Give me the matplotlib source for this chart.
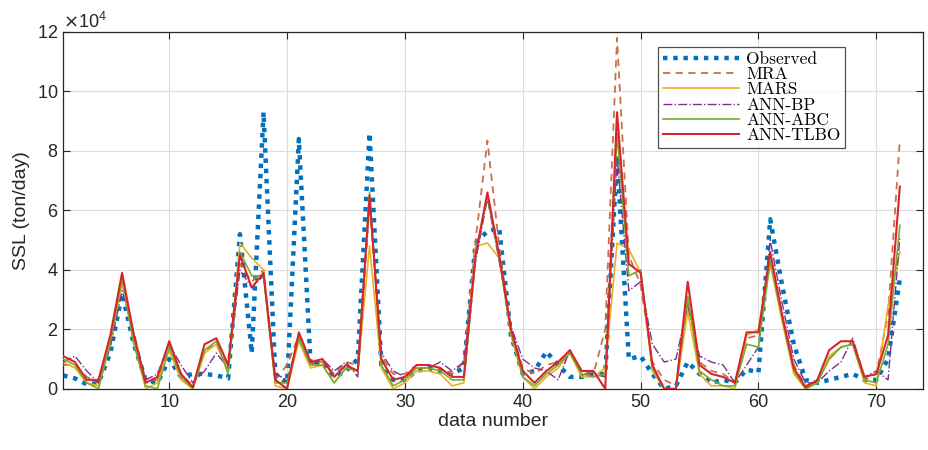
import numpy as np
import matplotlib.pyplot as plt
from matplotlib.ticker import ScalarFormatter

# values in units of 1e4 ton/day
observed = [0.45, 0.35, 0.15, 0.2, 1.2, 3.2, 1.5, 0.3, 0.2, 1.0,
            0.4, 0.5, 0.5, 0.45, 0.35, 5.2, 1.2, 9.3, 0.5, 0.2,
            8.4, 0.8, 0.9, 0.4, 0.6, 1.0, 8.6, 0.8, 0.3, 0.3,
            0.6, 0.7, 0.6, 0.5, 0.7, 4.9, 5.3, 5.4, 1.8, 0.5,
            0.6, 1.25, 0.8, 0.4, 0.4, 0.5, 0.5, 7.8, 1.0, 1.1,
            0.5, 0.0, 0.1, 0.9, 0.5, 0.2, 0.3, 0.2, 0.65, 0.55,
            5.7, 3.5, 1.5, 0.3, 0.2, 0.3, 0.4, 0.5, 0.3, 0.3,
            1.0, 3.7]
mra = [0.8, 0.8, 0.4, 0.2, 1.5, 3.6, 1.8, 0.3, 0.3, 1.4,
       0.5, 0.1, 1.3, 1.5, 0.7, 4.2, 3.6, 4.0, 0.3, 0.8,
       1.8, 0.9, 0.9, 0.5, 0.9, 0.8, 6.2, 1.1, 0.5, 0.5,
       0.8, 0.8, 0.7, 0.5, 0.9, 5.0, 8.35, 4.8, 2.0, 0.7,
       0.5, 0.8, 0.9, 1.2, 0.6, 0.5, 2.0, 11.8, 4.5, 3.5,
       0.9, 0.3, 0.1, 3.0, 0.9, 0.6, 0.5, 0.2, 1.7, 1.8,
       4.5, 2.5, 0.8, 0.1, 0.3, 1.0, 1.4, 1.5, 0.3, 0.5,
       2.5, 8.4]
mars = [0.9, 0.7, 0.2, 0.1, 1.5, 3.6, 1.6, 0.0, 0.2, 1.3,
        0.3, 0.0, 1.2, 1.5, 0.6, 4.9, 4.4, 4.0, 0.1, 0.0,
        1.6, 0.7, 0.8, 0.2, 0.7, 0.6, 4.8, 0.7, 0.0, 0.2,
        0.6, 0.6, 0.5, 0.1, 0.2, 4.8, 4.9, 4.4, 1.8, 0.4,
        0.0, 0.4, 0.7, 1.2, 0.4, 0.4, 0.7, 4.9, 4.7, 3.9,
        0.6, 0.0, 0.0, 2.6, 0.5, 0.1, 0.1, 0.0, 1.8, 2.0,
        4.2, 2.3, 0.5, 0.0, 0.2, 1.1, 1.4, 1.5, 0.2, 0.1,
        2.8, 4.6]
ann_bp = [0.9, 1.1, 0.6, 0.2, 1.4, 3.3, 1.9, 0.3, 0.5, 1.5,
          0.8, 0.2, 0.6, 1.2, 0.7, 4.0, 3.4, 3.8, 0.5, 0.3,
          1.7, 0.8, 1.0, 0.6, 0.9, 0.4, 6.3, 1.2, 0.6, 0.4,
          0.7, 0.7, 0.9, 0.6, 0.9, 4.3, 6.4, 4.3, 2.1, 1.0,
          0.7, 0.6, 0.3, 1.3, 0.5, 0.5, 0.4, 7.8, 3.3, 3.6,
          1.5, 0.9, 1.0, 2.8, 1.1, 0.9, 0.8, 0.2, 0.8, 1.4,
          5.0, 2.9, 1.0, 0.2, 0.2, 0.6, 0.9, 1.7, 0.4, 0.6,
          0.3, 5.1]
ann_abc = [1.0, 0.8, 0.2, 0.0, 1.6, 3.7, 1.5, 0.1, 0.0, 1.4,
           0.4, 0.0, 1.3, 1.6, 0.5, 4.6, 3.8, 3.8, 0.2, 0.2,
           1.7, 0.8, 0.8, 0.2, 0.7, 0.6, 6.6, 0.8, 0.1, 0.3,
           0.7, 0.7, 0.6, 0.3, 0.3, 4.5, 6.5, 4.4, 1.9, 0.4,
           0.1, 0.5, 0.8, 1.2, 0.5, 0.4, 0.5, 8.6, 3.8, 4.0,
           0.7, 0.0, 0.0, 3.1, 0.6, 0.3, 0.1, 0.1, 1.5, 1.4,
           4.3, 2.4, 0.6, 0.0, 0.2, 1.0, 1.4, 1.5, 0.3, 0.2,
           1.5, 5.5]
ann_tlbo = [1.1, 0.9, 0.3, 0.3, 1.8, 3.9, 1.8, 0.2, 0.4, 1.6,
            0.5, 0.05, 1.5, 1.7, 0.8, 4.5, 3.4, 3.9, 0.3, 0.0,
            1.9, 0.9, 1.0, 0.4, 0.8, 0.6, 6.5, 1.0, 0.3, 0.4,
            0.8, 0.8, 0.7, 0.4, 0.4, 4.5, 6.6, 4.5, 2.0, 0.6,
            0.2, 0.6, 0.9, 1.3, 0.6, 0.6, 0.0, 9.3, 4.2, 3.9,
            0.8, 0.0, 0.0, 3.6, 0.8, 0.5, 0.4, 0.2, 1.9, 1.9,
            4.6, 2.5, 0.7, 0.05, 0.3, 1.3, 1.6, 1.6, 0.4, 0.5,
            1.8, 6.8]

x = np.arange(1, len(observed) + 1)
scale = 1e4

plt.rcParams['font.family'] = ['Liberation Sans', 'DejaVu Sans']

fig = plt.figure(figsize=(9.29, 4.5), dpi=100)
ax = fig.add_axes([0.068, 0.136, 0.926, 0.793])

ax.plot(x, np.array(observed) * scale, color='#0072BD', linestyle=(0, (1, 1.3)), linewidth=3.2, label='Observed', zorder=2)
ax.plot(x, np.array(mra) * scale, color='#C8704B', linestyle=(0, (4, 3)), linewidth=1.3, label='MRA', zorder=3)
ax.plot(x, np.array(mars) * scale, color='#EDB120', linestyle='-', linewidth=1.2, label='MARS', zorder=3)
ax.plot(x, np.array(ann_bp) * scale, color='#7E2F8E', linestyle='-.', linewidth=1.0, label='ANN-BP', zorder=3)
ax.plot(x, np.array(ann_abc) * scale, color='#77AC30', linestyle='-', linewidth=1.2, label='ANN-ABC', zorder=3)
ax.plot(x, np.array(ann_tlbo) * scale, color='#D7262B', linestyle='-', linewidth=1.5, label='ANN-TLBO', zorder=4)

ax.set_xlim(1, 74)
ax.set_ylim(0, 12e4)
ax.set_xticks([10, 20, 30, 40, 50, 60, 70])
ax.set_yticks(np.arange(0, 12.1e4, 2e4))

fmt = ScalarFormatter(useMathText=True)
fmt.set_powerlimits((4, 4))
ax.yaxis.set_major_formatter(fmt)
ax.yaxis.get_offset_text().set_fontsize(13)
ax.yaxis.get_offset_text().set_color('#262626')

ax.grid(True, color='#dcdcdc', linewidth=0.8)
ax.set_axisbelow(True)
ax.tick_params(direction='in', length=5, top=True, right=True, labelsize=13, colors='#262626')
for s in ax.spines.values():
    s.set_color('#262626')
    s.set_linewidth(0.9)

ax.set_xlabel('data number', fontsize=14, color='#262626', labelpad=2)
ax.set_ylabel('SSL (ton/day)', fontsize=14, color='#262626', labelpad=5)

leg = ax.legend(loc='upper left', bbox_to_anchor=(0.692, 0.958), prop={'family': 'cmr10', 'size': 12.5},
                frameon=True, fancybox=False, edgecolor='#262626', handlelength=4.4,
                labelspacing=0.0, borderpad=0.25, handletextpad=0.4, borderaxespad=0)
leg.get_frame().set_linewidth(0.9)

plt.savefig('out.png', dpi=100)
